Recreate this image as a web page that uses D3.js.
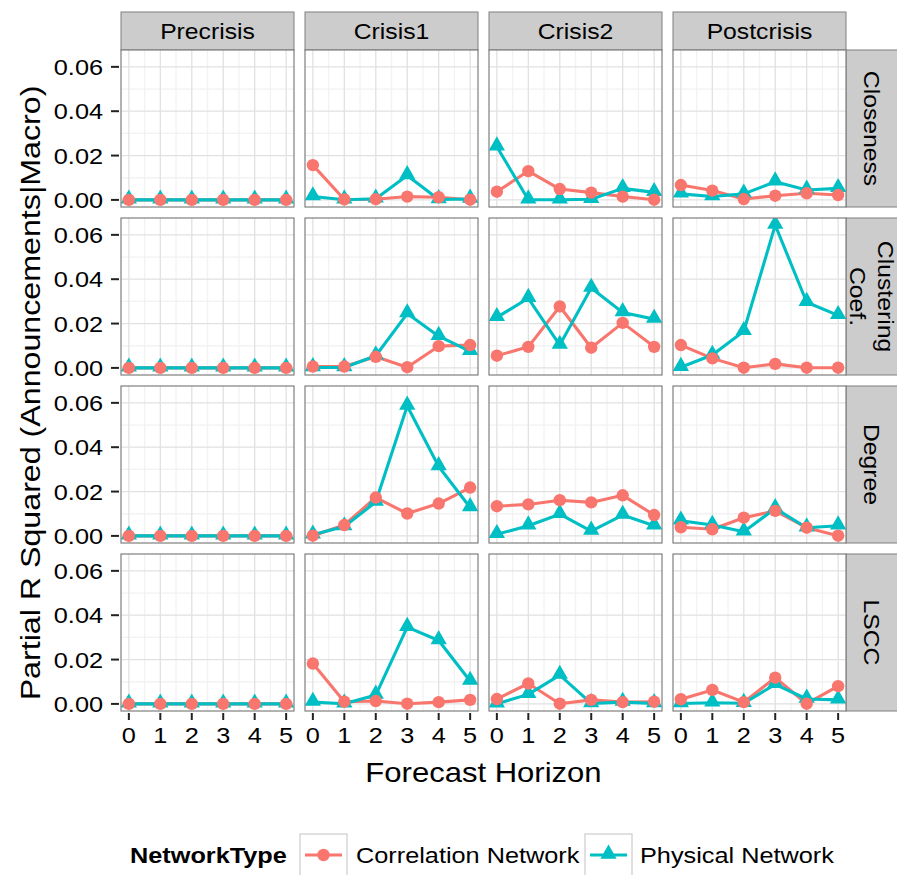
<!DOCTYPE html>
<html>
<head>
<meta charset="utf-8">
<script src="https://cdn.jsdelivr.net/npm/d3@7"></script>
<style>
  html, body { margin: 0; padding: 0; background: #fff; }
  svg { display: block; }
  text { font-family: "Liberation Sans", Arial, Helvetica, sans-serif; fill: #000; }
</style>
</head>
<body>
<svg id="chart" width="897" height="875"></svg>
<script>
// Forecast horizons on the x axis
const horizons = [0, 1, 2, 3, 4, 5];
// Facet columns (periods) and facet rows (network measures)
const periods = ["Precrisis", "Crisis1", "Crisis2", "Postcrisis"];
const measures = ["Closeness", "Clustering Coef.", "Degree", "LSCC"];
const measureLabels = [["Closeness"], ["Clustering", "Coef."], ["Degree"], ["LSCC"]];
const seriesNames = ["Correlation Network", "Physical Network"];
const seriesColors = ["#F8766D", "#00BFC4"];
const yTicks = [0, 0.02, 0.04, 0.06];
const yMinor = [0.01, 0.03, 0.05];

// Partial R squared, one row per period (Precrisis, Crisis1, Crisis2, Postcrisis)
const closenessCorrelation = [
  [0, 0, 0, 0, 0, 0],
  [0.0157, 0.0002, 0.0003, 0.0015, 0.0012, 0.0001],
  [0.0037, 0.0130, 0.0049, 0.0033, 0.0015, 0.0001],
  [0.0067, 0.0042, 0.0004, 0.0019, 0.0030, 0.0022]
];
const closenessPhysical = [
  [0, 0, 0, 0, 0, 0],
  [0.0015, 0.0001, 0.0005, 0.0110, 0.0002, 0.0004],
  [0.0240, 0.0001, 0.0001, 0.0003, 0.0052, 0.0034],
  [0.0027, 0.0015, 0.0027, 0.0082, 0.0045, 0.0052]
];
const clusteringCorrelation = [
  [0, 0, 0, 0, 0, 0],
  [0.0006, 0.0006, 0.0050, 0.0003, 0.0098, 0.0103],
  [0.0055, 0.0095, 0.0277, 0.0091, 0.0203, 0.0095],
  [0.0103, 0.0043, 0.0001, 0.0018, 0.0001, 0.0001]
];
const clusteringPhysical = [
  [0, 0, 0, 0, 0, 0],
  [0.0002, 0.0002, 0.0055, 0.0245, 0.0143, 0.0075],
  [0.0228, 0.0314, 0.0103, 0.0360, 0.0250, 0.0220],
  [0.0003, 0.0058, 0.0165, 0.0644, 0.0296, 0.0237]
];
const degreeCorrelation = [
  [0, 0, 0, 0, 0, 0],
  [0.0001, 0.0049, 0.0173, 0.0101, 0.0146, 0.0218],
  [0.0134, 0.0142, 0.0161, 0.0151, 0.0183, 0.0094],
  [0.0039, 0.0030, 0.0082, 0.0113, 0.0037, 0.0001]
];
const degreePhysical = [
  [0, 0, 0, 0, 0, 0],
  [0.0005, 0.0042, 0.0153, 0.0586, 0.0313, 0.0128],
  [0.0007, 0.0046, 0.0098, 0.0022, 0.0094, 0.0046],
  [0.0068, 0.0049, 0.0019, 0.0124, 0.0037, 0.0046]
];
const lsccCorrelation = [
  [0, 0, 0, 0, 0, 0],
  [0.0182, 0.0010, 0.0013, 0.0001, 0.0008, 0.0018],
  [0.0022, 0.0092, 0.0001, 0.0018, 0.0008, 0.0010],
  [0.0021, 0.0063, 0.0008, 0.0118, 0.0001, 0.0080]
];
const lsccPhysical = [
  [0, 0, 0, 0, 0, 0],
  [0.0008, 0.0001, 0.0040, 0.0346, 0.0286, 0.0103],
  [0.0001, 0.0043, 0.0130, 0.0002, 0.0008, 0.0002],
  [0.0002, 0.0005, 0.0003, 0.0088, 0.0022, 0.0018]
];

const seriesByMeasure = [
  [closenessCorrelation, closenessPhysical],
  [clusteringCorrelation, clusteringPhysical],
  [degreeCorrelation, degreePhysical],
  [lsccCorrelation, lsccPhysical]
];

// ---- layout ----
const svg = d3.select("#chart");
const W = 897, H = 875;
const leftX = 121, topY = 50;
const panelW = 173, panelH = 157, gapX = 11, gapY = 11;
const stripH = 38, stripW = 60;
const stretch = 1.15;
const gridMajor = "#E1E1E1", gridMinor = "#F2F2F2", borderCol = "#7F7F7F";
const lineW = 3.1, dotR = 6.2, triSize = 115;

svg.append("rect").attr("width", W).attr("height", H).attr("fill", "#fff");

const x = d3.scaleLinear().domain([-0.25, 5.25]).range([0, panelW]);
const y = d3.scaleLinear().domain([-0.0032, 0.0676]).range([panelH, 0]);

// horizontally widened text helper
function stext(parent, tx, ty, str, o = {}) {
  const t = parent.append("text")
    .attr("transform", `translate(${tx},${ty}) rotate(${o.rotate || 0}) scale(${stretch},1)`)
    .attr("text-anchor", o.anchor || "middle")
    .style("font-size", (o.size || 22) + "px")
    .text(str);
  if (o.weight) t.style("font-weight", o.weight);
  return t;
}

const line = d3.line().x((d, i) => x(horizons[i])).y(d => y(d));
const triangle = d3.symbol().type(d3.symbolTriangle).size(triSize);

periods.forEach((p, c) => {
  const px = leftX + c * (panelW + gapX);
  // column strip
  svg.append("rect").attr("x", px).attr("y", topY - stripH).attr("width", panelW).attr("height", stripH)
    .attr("fill", "#CCCCCC").attr("stroke", borderCol).attr("stroke-width", 1);
  stext(svg, px + panelW / 2, topY - stripH / 2 + 8, p, { size: 21.5 });
});

measures.forEach((m, r) => {
  const py = topY + r * (panelH + gapY);
  // row strip on the right
  const sx = leftX + 4 * panelW + 3 * gapX;
  svg.append("rect").attr("x", sx).attr("y", py).attr("width", stripW).attr("height", panelH)
    .attr("fill", "#CCCCCC").attr("stroke", borderCol).attr("stroke-width", 1);
  const lbl = measureLabels[r];
  lbl.forEach((s, k) => {
    const off = (k - (lbl.length - 1) / 2) * 28;
    stext(svg, sx + 18 - off, py + panelH / 2, s, { size: 21.5, rotate: 90 });
  });

  // y axis for the row
  const ya = svg.append("g").attr("transform", `translate(${leftX},${py})`);
  yTicks.forEach(v => {
    ya.append("line").attr("x1", -10).attr("x2", -2).attr("y1", y(v)).attr("y2", y(v))
      .attr("stroke", "#222").attr("stroke-width", 2);
    stext(ya, -18, y(v) + 8, v.toFixed(2), { anchor: "end", size: 22 });
  });

  periods.forEach((p, c) => {
    const px = leftX + c * (panelW + gapX);
    const g = svg.append("g").attr("transform", `translate(${px},${py})`);
    g.append("rect").attr("width", panelW).attr("height", panelH).attr("fill", "#fff");
    // minor grid
    yMinor.forEach(v => g.append("line").attr("x1", 0).attr("x2", panelW).attr("y1", y(v)).attr("y2", y(v))
      .attr("stroke", gridMinor).attr("stroke-width", 1.3));
    horizons.slice(0, -1).forEach(h => g.append("line").attr("y1", 0).attr("y2", panelH)
      .attr("x1", x(h + 0.5)).attr("x2", x(h + 0.5)).attr("stroke", gridMinor).attr("stroke-width", 1.3));
    // major grid
    yTicks.forEach(v => g.append("line").attr("x1", 0).attr("x2", panelW).attr("y1", y(v)).attr("y2", y(v))
      .attr("stroke", gridMajor).attr("stroke-width", 1.3));
    horizons.forEach(h => g.append("line").attr("y1", 0).attr("y2", panelH)
      .attr("x1", x(h)).attr("x2", x(h)).attr("stroke", gridMajor).attr("stroke-width", 1.3));

    const clip = `clip-${r}-${c}`;
    g.append("clipPath").attr("id", clip).append("rect").attr("width", panelW).attr("height", panelH);
    const data = g.append("g").attr("clip-path", `url(#${clip})`);
    const [corr, phys] = seriesByMeasure[r];
    [corr[c], phys[c]].forEach((vals, s) => {
      data.append("path").attr("d", line(vals)).attr("fill", "none")
        .attr("stroke", seriesColors[s]).attr("stroke-width", lineW).attr("stroke-linejoin", "round");
    });
    phys[c].forEach((v, i) => data.append("path").attr("d", triangle)
      .attr("transform", `translate(${x(horizons[i])},${y(v) - 1})`).attr("fill", seriesColors[1]));
    corr[c].forEach((v, i) => data.append("circle").attr("cx", x(horizons[i])).attr("cy", y(v))
      .attr("r", dotR).attr("fill", seriesColors[0]));

    g.append("rect").attr("width", panelW).attr("height", panelH).attr("fill", "none")
      .attr("stroke", borderCol).attr("stroke-width", 1.2);

    if (r === measures.length - 1) {
      horizons.forEach(h => {
        g.append("line").attr("x1", x(h)).attr("x2", x(h)).attr("y1", panelH + 2).attr("y2", panelH + 9)
          .attr("stroke", "#222").attr("stroke-width", 2);
        stext(g, x(h), panelH + 32, String(h), { size: 22 });
      });
    }
  });
});

// axis titles
const bottomY = topY + 4 * panelH + 3 * gapY;
stext(svg, leftX + (4 * panelW + 3 * gapX) / 2, bottomY + 71, "Forecast Horizon", { size: 27 });
stext(svg, 40, 393, "Partial R Squared (Announcements|Macro)", { size: 28, rotate: -90 });

// legend
const legY = 855;
stext(svg, 130, legY + 8, "NetworkType", { anchor: "start", size: 22, weight: "bold" });
const keys = [{ kx: 300, tx: 356 }, { kx: 585, tx: 640 }];
keys.forEach((k, s) => {
  svg.append("rect").attr("x", k.kx).attr("y", legY - 21).attr("width", 47).attr("height", 43)
    .attr("fill", "#fff").attr("stroke", "#CCCCCC").attr("stroke-width", 1.2);
  svg.append("line").attr("x1", k.kx + 5).attr("x2", k.kx + 42).attr("y1", legY).attr("y2", legY)
    .attr("stroke", seriesColors[s]).attr("stroke-width", lineW);
  if (s === 0) {
    svg.append("circle").attr("cx", k.kx + 23.5).attr("cy", legY).attr("r", dotR).attr("fill", seriesColors[0]);
  } else {
    svg.append("path").attr("d", triangle).attr("transform", `translate(${k.kx + 23.5},${legY - 1})`)
      .attr("fill", seriesColors[1]);
  }
  stext(svg, k.tx, legY + 8, seriesNames[s], { anchor: "start", size: 22 });
});
</script>
</body>
</html>
